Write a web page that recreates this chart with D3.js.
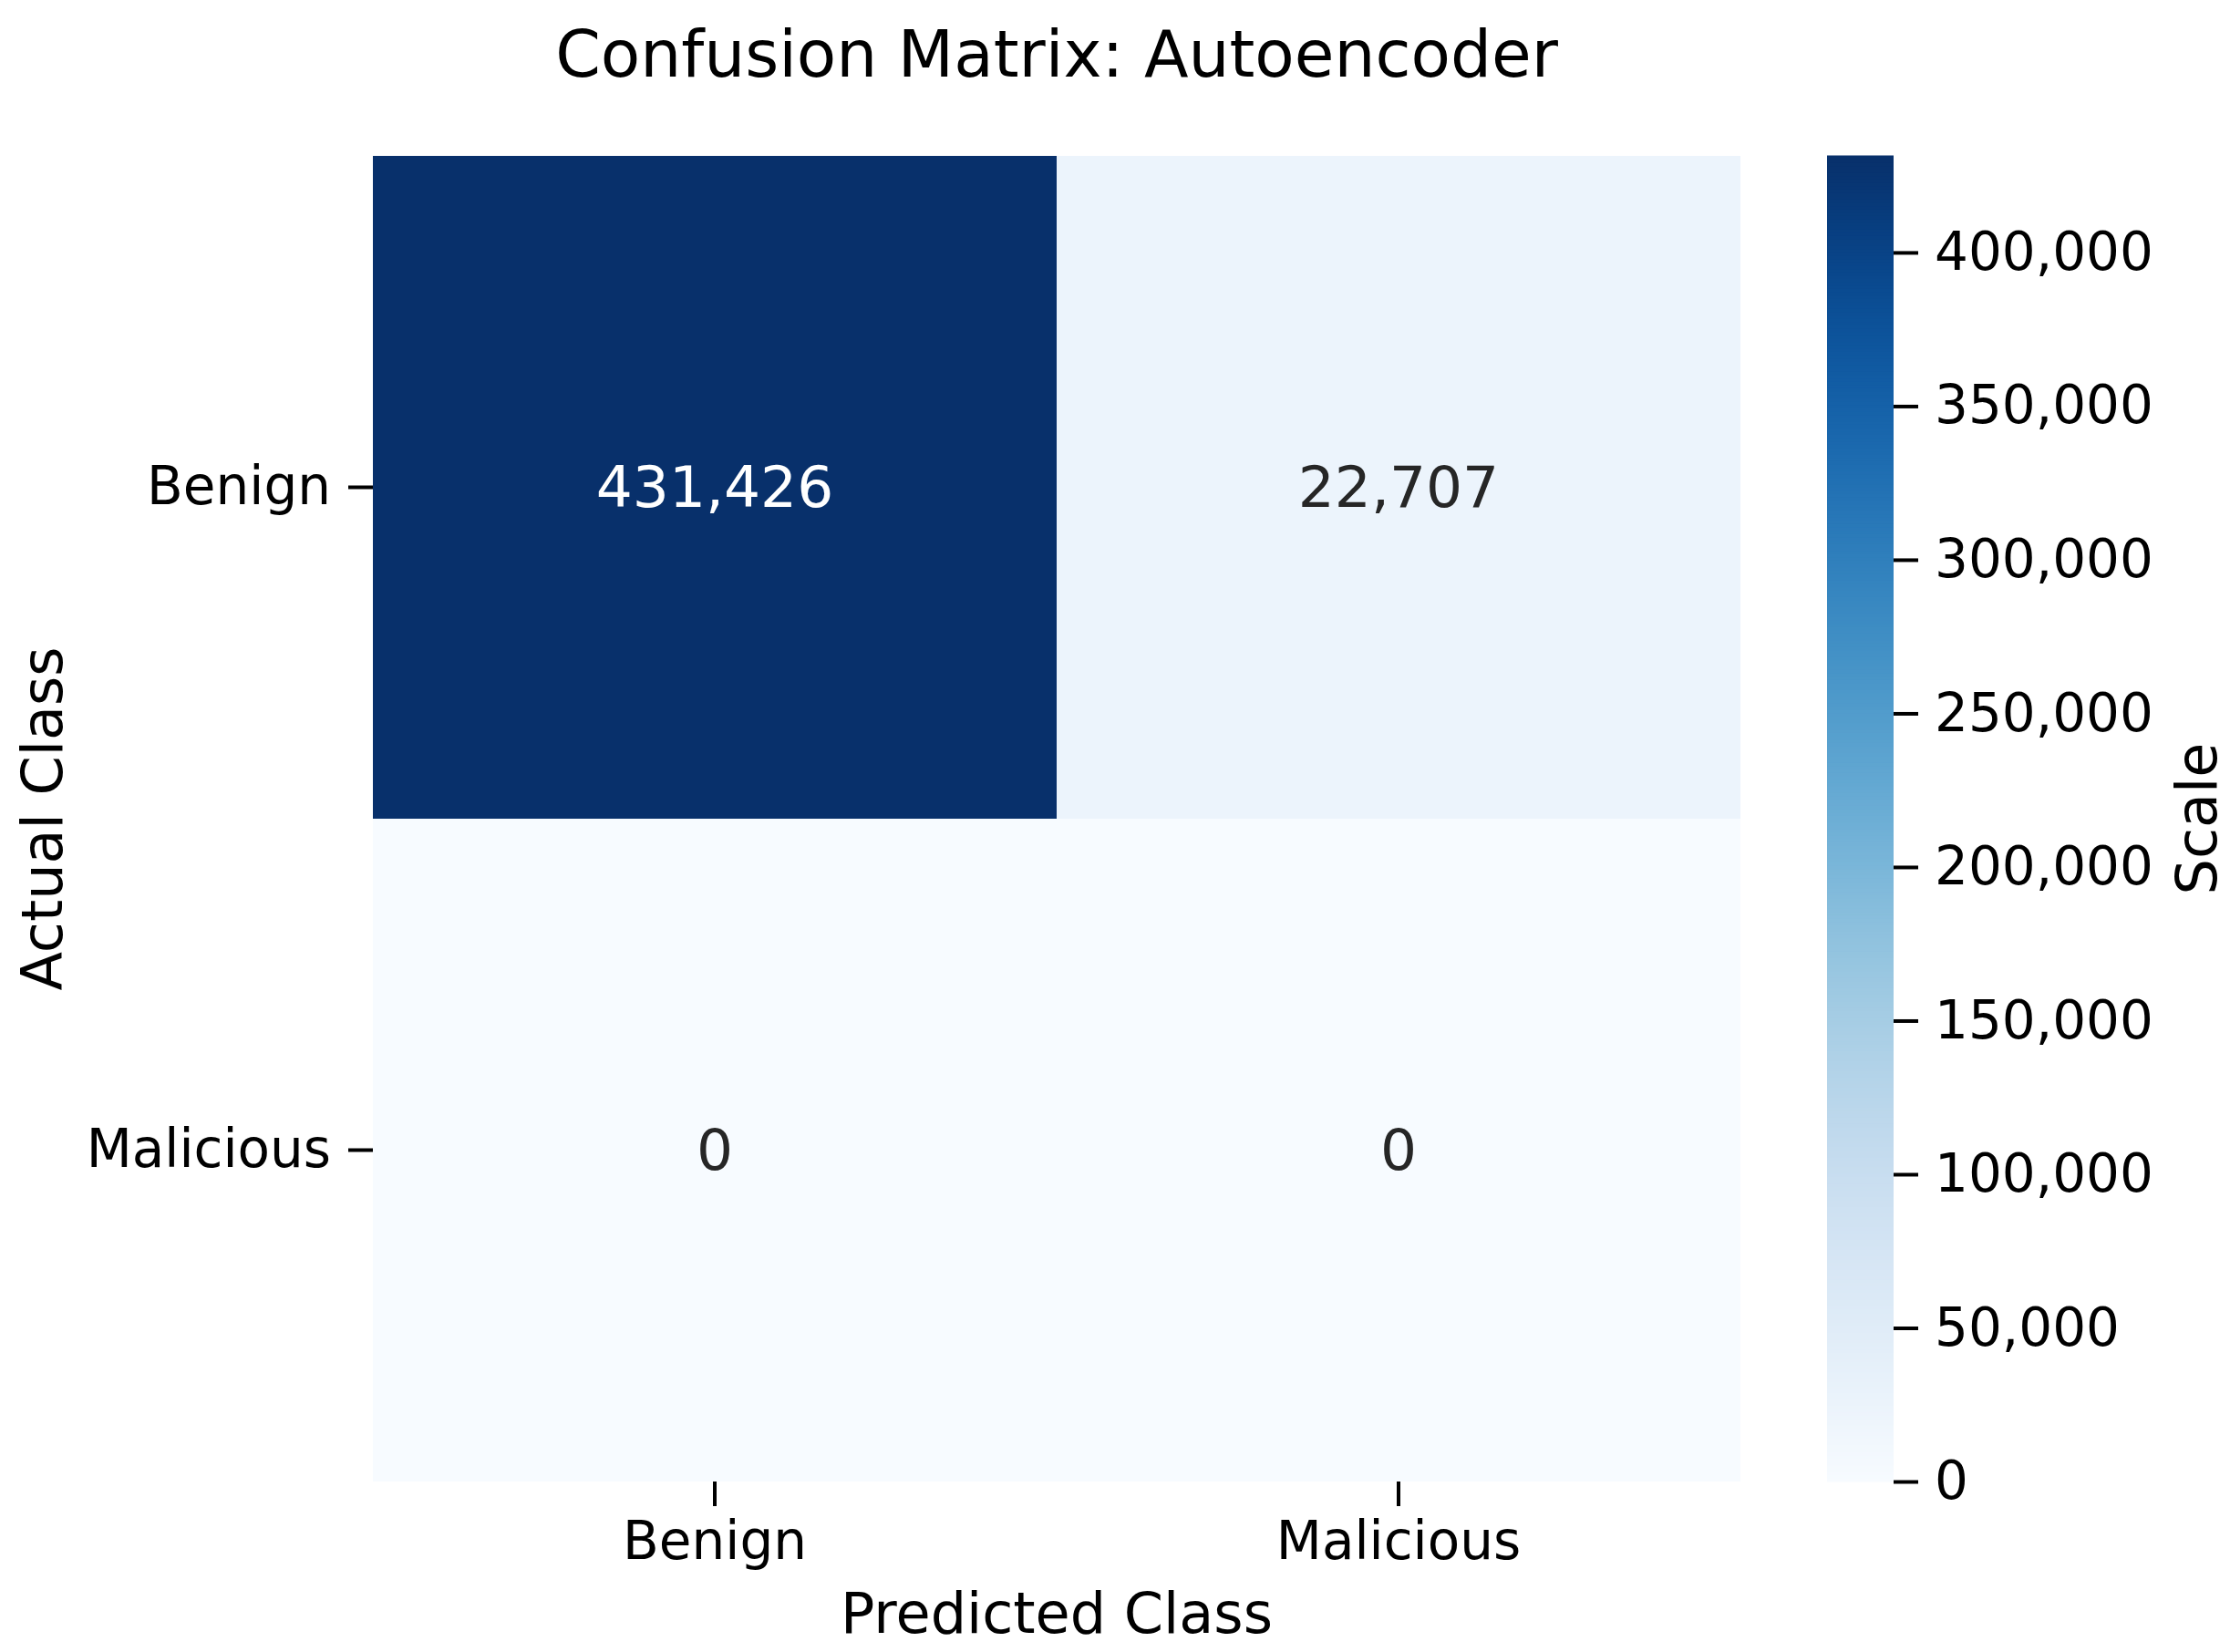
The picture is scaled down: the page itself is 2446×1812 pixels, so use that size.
<!DOCTYPE html>
<html>
<head>
<meta charset="utf-8">
<script src="https://cdn.jsdelivr.net/npm/d3@7"></script>
<style>
  html, body { margin: 0; padding: 0; background: #fff; }
  svg { display: block; }
  text { font-family: "DejaVu Sans", sans-serif; }
</style>
</head>
<body>
<script>
// ---- data ----
const actualClasses = ["Benign", "Malicious"];
const predictedClasses = ["Benign", "Malicious"];
const matrixValues = [
  [431426, 22707],
  [0, 0]
];
const colorbarTicks = [0, 50000, 100000, 150000, 200000, 250000, 300000, 350000, 400000];
const titleText = "Confusion Matrix: Autoencoder";
const xLabelText = "Predicted Class";
const yLabelText = "Actual Class";
const colorbarLabelText = "Scale";

// ---- layout ----
const W = 2446, H = 1812;
const hm = { left: 409, top: 171, right: 1909, bottom: 1625 };
const cb = { left: 2004, right: 2077, top: 171, bottom: 1625 };

const svg = d3.select("body").append("svg").attr("width", W).attr("height", H);

const cells = [];
actualClasses.forEach((a, i) => predictedClasses.forEach((p, j) => cells.push({ actual: a, predicted: p, value: matrixValues[i][j] })));

const maxVal = d3.max(cells, d => d.value);
const color = d3.scaleSequential(d3.interpolateBlues).domain([0, maxVal]);

const x = d3.scaleBand().domain(predictedClasses).range([hm.left, hm.right]);
const y = d3.scaleBand().domain(actualClasses).range([hm.top, hm.bottom]);

// cells
svg.append("g").selectAll("rect").data(cells).join("rect")
  .attr("x", d => x(d.predicted))
  .attr("y", d => y(d.actual))
  .attr("width", x.bandwidth())
  .attr("height", y.bandwidth())
  .attr("fill", d => color(d.value))
  .attr("shape-rendering", "crispEdges");

// annotations
const fmt = d3.format(",");
svg.append("g").selectAll("text").data(cells).join("text")
  .attr("x", d => x(d.predicted) + x.bandwidth() / 2)
  .attr("y", d => y(d.actual) + y.bandwidth() / 2)
  .attr("text-anchor", "middle")
  .attr("dominant-baseline", "central")
  .attr("font-size", 63)
  .attr("fill", d => (d.value / maxVal > 0.5 ? "#ffffff" : "#262626"))
  .text(d => fmt(d.value));

// x axis
const xAxis = d3.axisBottom(x).tickSizeOuter(0).tickSize(27).tickPadding(17);
const gx = svg.append("g").attr("transform", `translate(0,${hm.bottom})`).call(xAxis);
gx.select(".domain").remove();
gx.selectAll(".tick line").attr("stroke", "#000").attr("stroke-width", 4);
gx.selectAll(".tick text").attr("font-size", 58).attr("fill", "#000").attr("font-family", "DejaVu Sans");

// y axis
const yAxis = d3.axisLeft(y).tickSizeOuter(0).tickSize(27).tickPadding(19);
const gy = svg.append("g").attr("transform", `translate(${hm.left},0)`).call(yAxis);
gy.select(".domain").remove();
gy.selectAll(".tick line").attr("stroke", "#000").attr("stroke-width", 4);
gy.selectAll(".tick text").attr("font-size", 58).attr("fill", "#000").attr("font-family", "DejaVu Sans");

// colorbar
const cbScale = d3.scaleLinear().domain([0, maxVal]).range([cb.bottom, cb.top]);
const steps = d3.range(0, 400).map(i => (i / 400) * maxVal);
const stepH = (cb.bottom - cb.top) / 400;
svg.append("g").selectAll("rect").data(steps).join("rect")
  .attr("x", cb.left)
  .attr("width", cb.right - cb.left)
  .attr("y", d => cbScale(d) - stepH - 0.5)
  .attr("height", stepH + 1)
  .attr("fill", d => color(d + maxVal / 800));

const cbAxis = d3.axisRight(cbScale).tickValues(colorbarTicks).tickFormat(fmt).tickSize(27).tickPadding(18).tickSizeOuter(0);
const gcb = svg.append("g").attr("transform", `translate(${cb.right},0)`).call(cbAxis);
gcb.select(".domain").remove();
gcb.selectAll(".tick line").attr("stroke", "#000").attr("stroke-width", 4);
gcb.selectAll(".tick text").attr("font-size", 58).attr("fill", "#000").attr("font-family", "DejaVu Sans");

// title
svg.append("text")
  .attr("x", (hm.left + hm.right) / 2).attr("y", 84)
  .attr("text-anchor", "middle").attr("font-size", 71).attr("fill", "#000")
  .text(titleText);

// x label
svg.append("text")
  .attr("x", (hm.left + hm.right) / 2).attr("y", 1791)
  .attr("text-anchor", "middle").attr("font-size", 62).attr("fill", "#000")
  .text(xLabelText);

// y label
svg.append("text")
  .attr("transform", `translate(68,${(hm.top + hm.bottom) / 2}) rotate(-90)`)
  .attr("text-anchor", "middle").attr("font-size", 62).attr("fill", "#000")
  .text(yLabelText);

// colorbar label
svg.append("text")
  .attr("transform", `translate(2431,${(cb.top + cb.bottom) / 2}) rotate(-90)`)
  .attr("text-anchor", "middle").attr("font-size", 62).attr("fill", "#000")
  .text(colorbarLabelText);
</script>
</body>
</html>
